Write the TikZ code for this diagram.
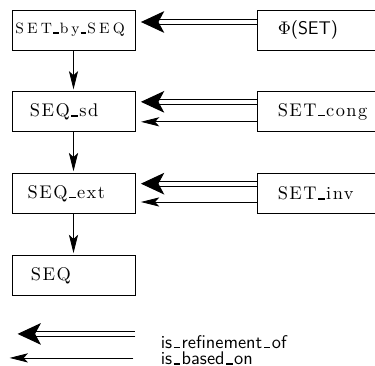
\documentclass[tikz,border=0pt]{standalone}
\usepackage{fontspec}
\usetikzlibrary{positioning, arrows.meta}

\newfontfamily\boxfamily{lmroman10-regular.otf}[LetterSpace=8]
\newfontfamily\smallboxfamily{lmroman9-regular.otf}[LetterSpace=22]
\newfontfamily\legendfamily{lmsans10-regular.otf}
% underscore sitting on the baseline
\newcommand{\usc}{\kern.08em\vbox{\hrule width.36em height 1pt}\kern.08em}

\begin{document}
\begin{tikzpicture}[
    node distance=24.6pt and 73.2pt, % vertical and horizontal spacing
    lbox/.style={draw, line width=0.5pt, minimum height=24pt, inner ysep=0pt,
                 inner xsep=#1, text width=73.8pt-2*#1, align=left,
                 font=\boxfamily\fontsize{11}{13}\selectfont},
    rbox/.style={lbox=12pt, text width=61.8pt},
    refine/.style={double, line width=0.6pt, double distance=2.2pt,
                   -{Stealth[length=14pt, width=13pt, inset=3.5pt]}, shorten >=3.3pt},
    based/.style={line width=0.5pt, -{Stealth[length=11pt, width=5.5pt, inset=2.5pt]}},
    legend/.style={anchor=base west, inner sep=0pt,
                   font=\legendfamily\fontsize{11}{13}\selectfont}
]
    \useasboundingbox (-44.1pt,18pt) rectangle (180.9pt,-201.6pt);

    % the boxes
    \node[lbox=2pt, font=\smallboxfamily\fontsize{9}{11}\selectfont] (sbs) {SET\usc by\usc SEQ};
    \node[lbox=10.8pt] (sd) [below=of sbs] {SEQ\usc sd};
    \node[lbox=9.4pt] (ext) [below=of sd] {SEQ\usc ext};
    \node[lbox=11.4pt] (seq) [below=of ext] {SEQ};

    \node[rbox] (phi) [right=of sbs] {$\Phi$\textsf{(SET)}};
    \node[rbox] (cong) [right=of sd] {SET\usc cong};
    \node[rbox] (inv) [right=of ext] {SET\usc inv};

    % is_based_on, downwards
    \draw [based, shorten >=1.2pt] (sbs) -- (sd);
    \draw [based, shorten >=1.2pt] (sd) -- (ext);
    \draw [based, shorten >=1.2pt] (ext) -- (seq);

    % from the right column
    \draw [refine] ([yshift=4.8pt]phi.west) -- ([yshift=4.8pt]sbs.east);
    \draw [refine] ([yshift=6pt]cong.west) -- ([yshift=6pt]sd.east);
    \draw [based, shorten >=3.3pt] ([yshift=-6pt]cong.west) -- ([yshift=-6pt]sd.east);
    \draw [refine] ([yshift=6pt]inv.west) -- ([yshift=6pt]ext.east);
    \draw [based, shorten >=3.3pt] ([yshift=-5pt]inv.west) -- ([yshift=-5pt]ext.east);

    % legend
    \coordinate (refR) at ([yshift=-22.8pt]seq.south east);
    \coordinate (refL) at ([xshift=3.6pt, yshift=-22.8pt]seq.south west);
    \coordinate (basR) at ([xshift=-1.2pt, yshift=-37.2pt]seq.south east);
    \coordinate (basL) at ([xshift=-1.2pt, yshift=-37.2pt]seq.south west);
    \draw [refine, shorten >=0pt] (refR) -- (refL);
    \draw [based] (basR) -- (basL);

    \node (reftext) [legend] at ([xshift=15pt, yshift=-31.4pt]seq.south east) {is\usc refinement\usc of};
    \node (bastext) [legend] at ([xshift=15pt, yshift=-41.2pt]seq.south east) {is\usc based\usc on};
\end{tikzpicture}
\end{document}
